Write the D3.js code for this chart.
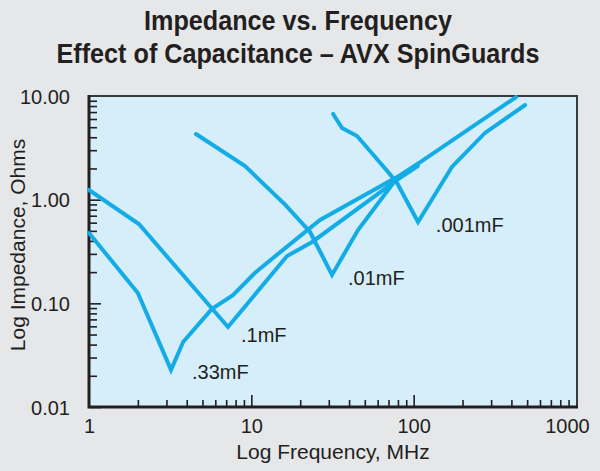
<!DOCTYPE html>
<html><head><meta charset="utf-8">
<script src="https://cdn.jsdelivr.net/npm/d3@7"></script>
<style>
html,body{margin:0;padding:0;background:#e6e7e8;}
text{font-family:"Liberation Sans",Arial,Helvetica,sans-serif;fill:#231f20;}
</style></head>
<body>
<svg id="chart" width="600" height="471"></svg>
<script>
// ---- data ----
const titleLines = ["Impedance vs. Frequency", "Effect of Capacitance \u2013 AVX SpinGuards"];
const xLabel = "Log Frequency, MHz";
const yLabel = "Log Impedance, Ohms";
const xTickValues = [1, 10, 100, 1000];
const xTickLabels = ["1", "10", "100", "1000"];
const yTickValues = [10, 1, 0.1, 0.01];
const yTickLabels = ["10.00", "1.00", "0.10", "0.01"];
const seriesNames = [".33mF", ".1mF", ".01mF", ".001mF"];
// frequency (MHz), impedance (Ohms)
const cap33F = [1, 2.0, 3.2, 3.8, 5.7, 7.7, 10.5, 13.6, 26.5, 79, 106];
const cap33Z = [0.477, 0.126, 0.0228, 0.0424, 0.088, 0.12, 0.196, 0.274, 0.637, 1.65, 2.21];
const cap1F = [1, 2.03, 7.18, 16.6, 23.7, 79, 106];
const cap1Z = [1.24, 0.582, 0.0591, 0.286, 0.391, 1.55, 2.11];
const cap01F = [4.56, 9.15, 16.2, 23.0, 31.4, 45.4, 79, 428];
const cap01Z = [4.30, 2.11, 0.89, 0.488, 0.188, 0.51, 1.62, 9.78];
const cap001F = [31.9, 36.2, 44.8, 69.6, 79, 106.4, 172, 275, 486];
const cap001Z = [6.71, 4.91, 4.11, 1.85, 1.45, 0.609, 2.07, 4.40, 8.19];
// label anchor points (data coords)
const labelF = [4.31, 8.64, 39.4, 137];
const labelZ = [0.0186, 0.0424, 0.150, 0.488];

const series = [
  {name: seriesNames[0], f: cap33F, z: cap33Z},
  {name: seriesNames[1], f: cap1F, z: cap1Z},
  {name: seriesNames[2], f: cap01F, z: cap01Z},
  {name: seriesNames[3], f: cap001F, z: cap001Z}
];

const svg = d3.select("#chart");
const W = 600, H = 471;
const L = 89, R = 576, T = 96, B = 407;
const ink = "#231f20";
const lineColor = "#14ace6";

svg.append("rect").attr("width", W).attr("height", H).attr("fill", "#e6e7e8");

const x = d3.scaleLog().domain([1, 1000]).range([L, R]);
const y = d3.scaleLog().domain([0.01, 10]).range([B, T]);

// plot area
svg.append("rect").attr("x", L).attr("y", T).attr("width", R + 1 - L).attr("height", B - T)
  .attr("fill", "#d5eefa");

// title
const titleWidths = [308, 483];
titleLines.forEach((t, i) => {
  svg.append("text").attr("x", 298).attr("y", 30 + i * 33)
    .attr("text-anchor", "middle").attr("font-size", 27).attr("font-weight", "bold")
    .attr("textLength", titleWidths[i]).attr("lengthAdjust", "spacingAndGlyphs")
    .text(t);
});

// minor tick values
const minorX = [], minorY = [];
[1, 10, 100].forEach(d => { for (let k = 2; k <= 9; k++) minorX.push(d * k); });
[0.01, 0.1, 1].forEach(d => { for (let k = 2; k <= 9; k++) minorY.push(+(d * k).toPrecision(3)); });

// y axis ticks (inward)
const gy = svg.append("g").attr("transform", `translate(${L},0)`);
gy.call(d3.axisLeft(y).tickValues(minorY).tickSize(-8).tickFormat(""));
const gyMaj = svg.append("g").attr("transform", `translate(${L},0)`);
gyMaj.call(d3.axisLeft(y).tickValues(yTickValues).tickSize(-12).tickPadding(19)
  .tickFormat((d, i) => yTickLabels[i]));
[gy, gyMaj].forEach(g => {
  g.select(".domain").remove();
  g.selectAll("line").attr("stroke", ink).attr("stroke-width", 1.6);
});
gyMaj.selectAll("text").attr("font-size", 20).attr("fill", ink).attr("font-family", "Liberation Sans, Arial, sans-serif").attr("dy", "0.36em");
gyMaj.selectAll(".tick").filter(d => d === 10).select("line").remove();

// x axis ticks (inward)
const gx = svg.append("g").attr("transform", `translate(0,${B})`);
gx.call(d3.axisBottom(x).tickValues(minorX).tickSize(-7).tickFormat(""));
const gxMaj = svg.append("g").attr("transform", `translate(0,${B})`);
gxMaj.call(d3.axisBottom(x).tickValues(xTickValues).tickSize(-12).tickPadding(12)
  .tickFormat((d, i) => xTickLabels[i]));
[gx, gxMaj].forEach(g => {
  g.select(".domain").remove();
  g.selectAll("line").attr("stroke", ink).attr("stroke-width", 1.6);
});
gxMaj.selectAll("text").attr("font-size", 20).attr("fill", ink).attr("font-family", "Liberation Sans, Arial, sans-serif").attr("dy", "0.72em");
gxMaj.selectAll(".tick").filter(d => d === 1000).select("text").attr("dx", -9);
gxMaj.selectAll(".tick").filter(d => d === 1 || d === 1000).select("line").remove();

// frame
svg.append("path").attr("d", `M${L},${T}H${R + 1}V${B}`).attr("fill", "none")
  .attr("stroke", "#3a3a3c").attr("stroke-width", 2);
svg.append("path").attr("d", `M${L},${T - 1}V${B}H${R + 2}`).attr("fill", "none")
  .attr("stroke", ink).attr("stroke-width", 3);

// lines
const line = d3.line().x(d => x(d[0])).y(d => y(d[1]));
svg.append("g").selectAll("path").data(series).join("path")
  .attr("d", s => line(s.f.map((f, i) => [f, s.z[i]])))
  .attr("fill", "none").attr("stroke", lineColor).attr("stroke-width", 4)
  .attr("stroke-linejoin", "miter").attr("stroke-linecap", "round");

// series labels
svg.append("g").selectAll("text").data(series).join("text")
  .attr("x", (s, i) => x(labelF[i])).attr("y", (s, i) => y(labelZ[i]))
  .attr("font-size", 20).text(s => s.name);

// axis titles
svg.append("text").attr("x", 333).attr("y", 459).attr("text-anchor", "middle")
  .attr("font-size", 21).text(xLabel);
svg.append("text").attr("transform", "translate(25,245) rotate(-90)").attr("text-anchor", "middle")
  .attr("font-size", 21).text(yLabel);
</script>
</body></html>
